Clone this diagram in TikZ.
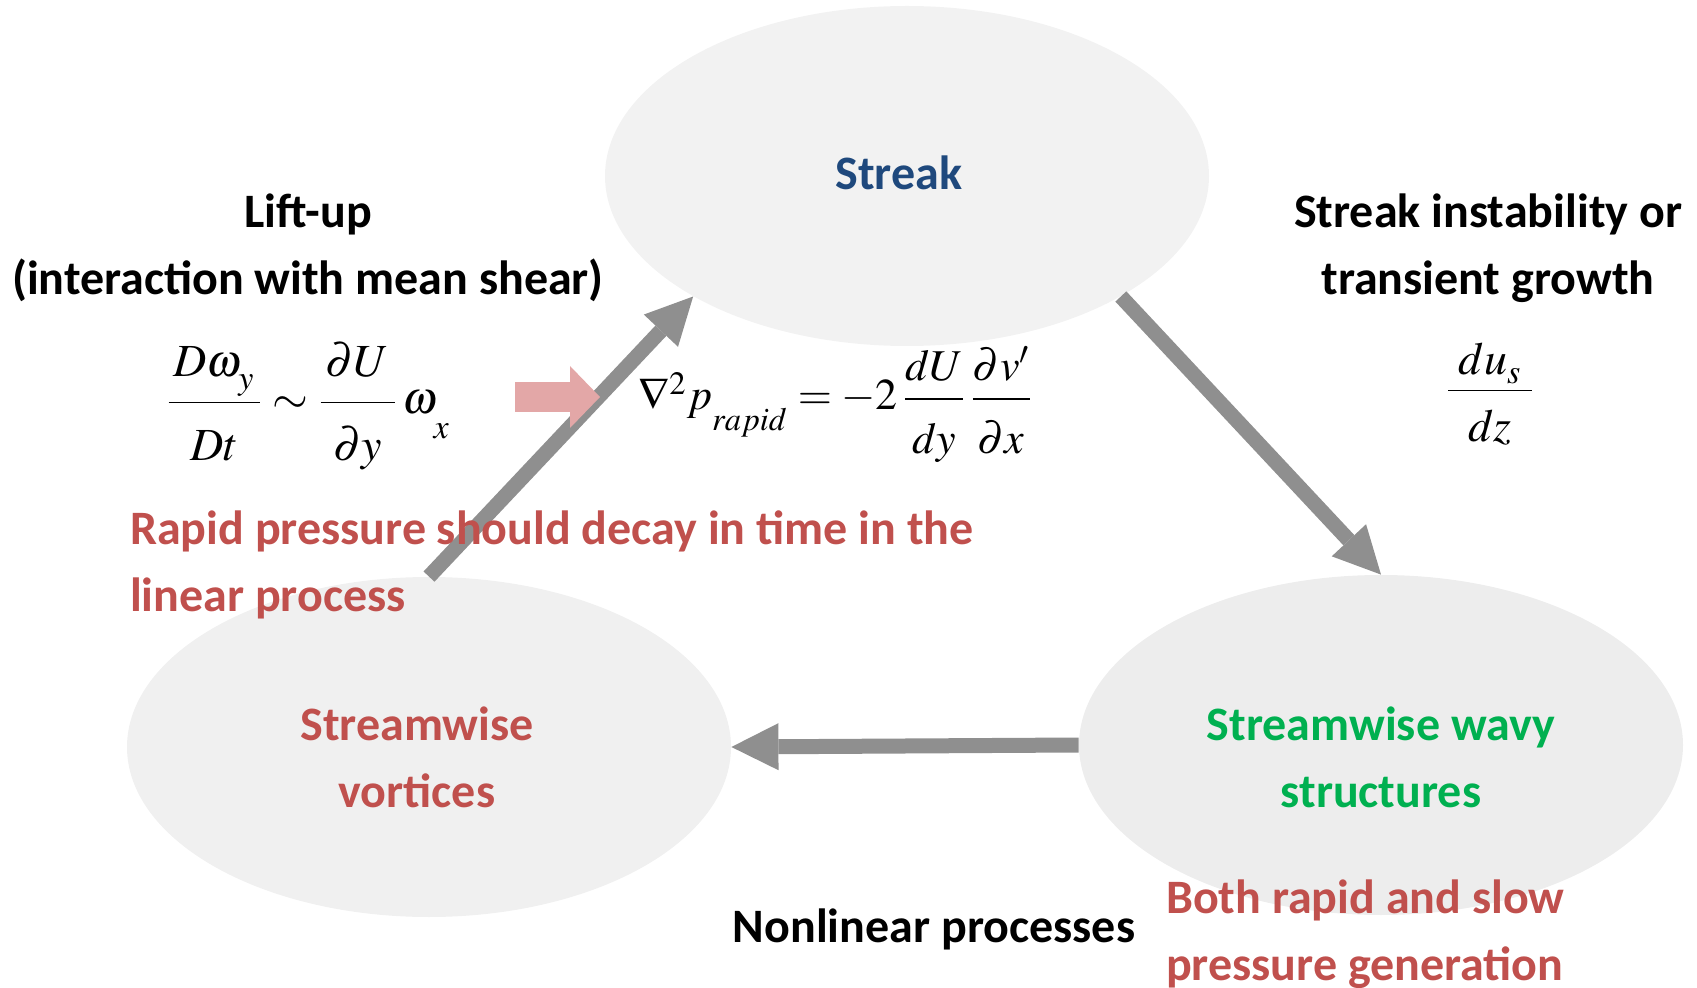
\documentclass[tikz,border=0pt]{standalone}
\usepackage{amsmath}
\usepackage{mathptmx}
\usepackage[no-math]{fontspec}
\setmainfont{Carlito}
\usetikzlibrary{arrows.meta,shapes.geometric}

\definecolor{arrowgray}{RGB}{143,143,143}
\definecolor{pinkarrow}{RGB}{227,167,167}
\definecolor{streakblue}{RGB}{31,73,125}
\definecolor{notered}{RGB}{192,80,77}
\definecolor{wavygreen}{RGB}{0,176,80}

% subscript set low, as in the equation objects
\newcommand{\lowsub}[2]{_{\raisebox{-#1}{$\scriptstyle #2$}}}

\tikzset{
    blob/.style={ellipse,inner sep=0pt,minimum width=302pt,minimum height=170pt},
    label/.style={align=center,font=\fontsize{24}{33.5}\selectfont\bfseries},
    note/.style={align=left,text=notered,font=\fontsize{24}{33.5}\selectfont\bfseries},
    eqn/.style={anchor=base,inner sep=0pt,font=\fontsize{23}{27}\selectfont},
    flow/.style={-{Triangle[length=23.5pt,width=23.5pt,line width=0pt]},
        line width=7.5pt,draw=arrowgray}
}

\begin{document}
\begin{tikzpicture}[x=0.5pt,y=-0.5pt]
                \useasboundingbox (0,0) rectangle (1697,988);

                \node[blob,fill=black!5] (streak) at (907,176) {};
                \node[blob,fill=black!6] (vortices) at (429,747) {};
                \node[blob,fill=black!7] (wavy) at (1381,745) {};

                \draw[flow] (vortices.north) -- (streak.south west);
                \draw[flow] (streak.south east) -- (wavy.north);
                \draw[flow] (wavy.west) -- (vortices.east);

                \coordinate (P) at (515,397);
                \coordinate (Q) at (600,397);
                \draw[-{Triangle[length=15pt,width=31pt,line width=0pt]},line width=15pt,draw=pinkarrow] (P) -- (Q);

                \node[label,text=streakblue] (streaktxt) at (899,173) {Streak};
                \node[label,text=notered] (vorttxt) at (417,757) {Streamwise\\vortices};
                \node[label,text=wavygreen] (wavytxt) at (1381,757) {Streamwise wavy\\structures};

                \node[label] (liftup) at (308,248) {Lift-up\\(interaction with mean shear)};
                \node[label] (instab) at (1488,248) {Streak instability or\\transient growth};
                \node[label] (nonlin) at (934,929) {Nonlinear processes};

                \node[eqn] (lifteq) at (308,414) {$\dfrac{\,D\omega\lowsub{3pt}{y}\,}{\rule{0pt}{26pt}Dt}\sim\dfrac{\,\partial U\vphantom{\omega\lowsub{3pt}{y}}\,}{\rule{0pt}{26pt}\partial y}\,\omega\lowsub{9pt}{x}$};
                \node[eqn,font=\fontsize{22}{26}\selectfont] (presseq) at (835,410) {$\nabla^{2}p\lowsub{7pt}{rapid}=-2\,\dfrac{dU\rule[-4pt]{0pt}{4pt}}{\rule{0pt}{24pt}dy}\,\dfrac{\partial v'\rule[-4pt]{0pt}{4pt}}{\rule{0pt}{24pt}\partial x}$};
                \node[eqn] (sheareq) at (1490,402) {$\dfrac{\raisebox{-3pt}{$\;du\lowsub{1pt}{s}\;$}}{\rule{0pt}{22.5pt}dz}$};

                \node[note,anchor=west] (decay) at (123,565) {Rapid pressure should decay in time in the\\linear process};
                \node[note,anchor=west] (both) at (1159,934) {Both rapid and slow\\pressure generation};
            \end{tikzpicture}
\end{document}
